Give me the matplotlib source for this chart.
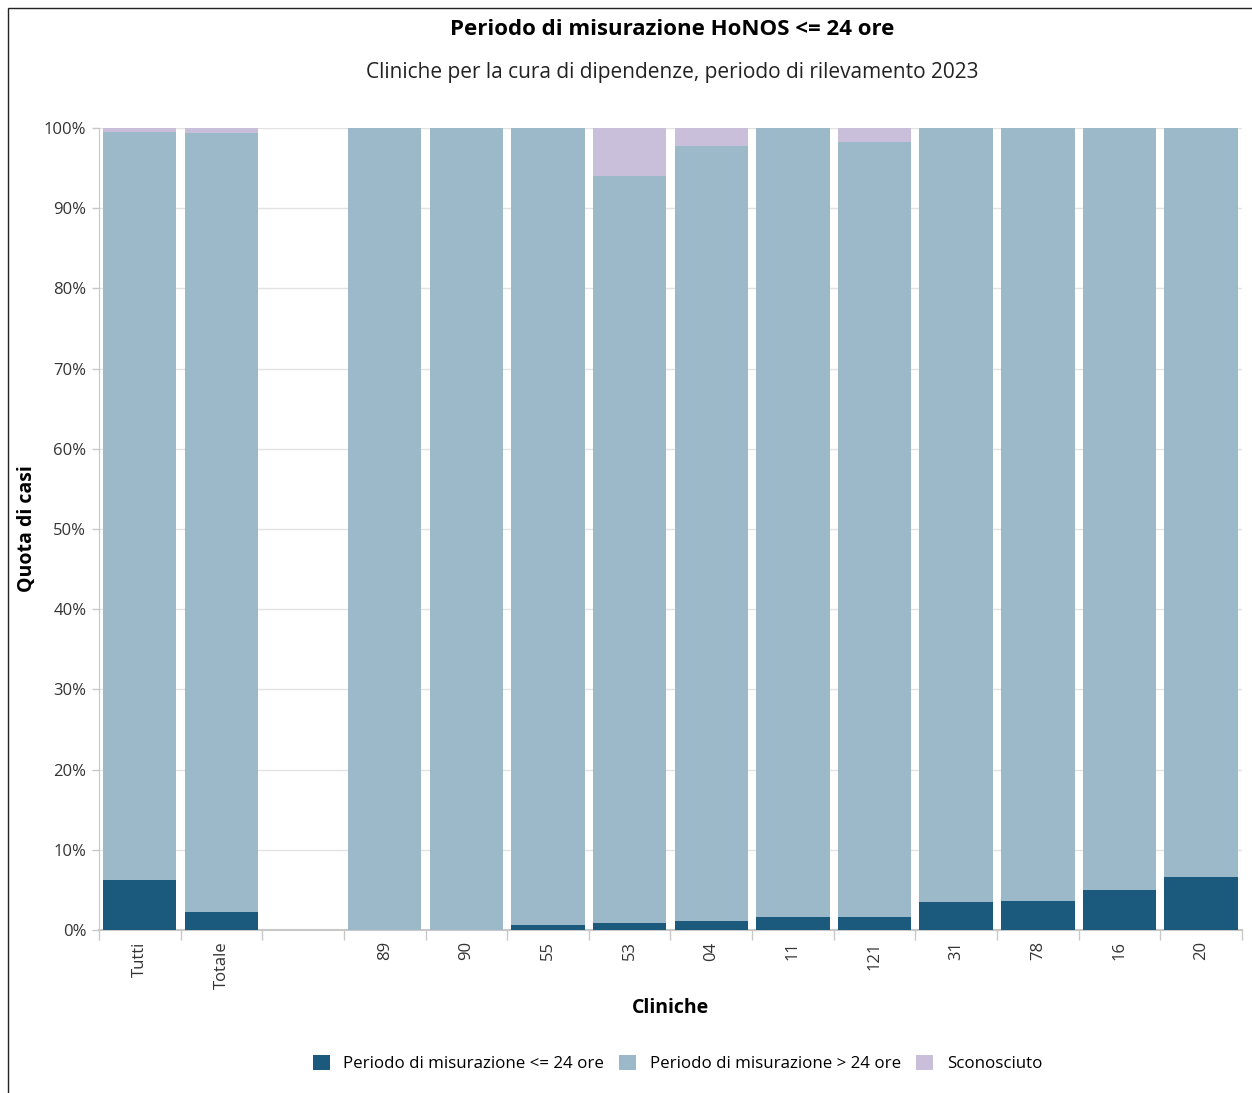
import matplotlib
matplotlib.use("Agg")
import matplotlib.pyplot as plt
import numpy as np
from matplotlib.patches import Rectangle

plt.rcParams['font.family'] = ['Open Sans', 'DejaVu Sans']

categories = ["Tutti", "Totale", "", "89", "90", "55", "53", "04", "11", "121", "31", "78", "16", "20"]
le24 = [6.2, 2.2, 0, 0, 0, 0.6, 0.9, 1.1, 1.6, 1.7, 3.5, 3.6, 5.0, 6.6]
gt24 = [93.3, 97.1, 0, 100, 100, 99.4, 93.1, 96.7, 98.4, 96.6, 96.5, 96.4, 95.0, 93.4]
unknown = [0.5, 0.7, 0, 0, 0, 0, 6.0, 2.2, 0, 1.7, 0, 0, 0, 0]

series_names = ["Periodo di misurazione <= 24 ore", "Periodo di misurazione > 24 ore", "Sconosciuto"]
colors = ["#1b5a7d", "#9bb9c9", "#c9bfda"]

fig = plt.figure(figsize=(12.52, 10.93), dpi=100)
ax = fig.add_axes([0.079, 0.149, 0.913, 0.734])

x = np.arange(len(categories))
w = 0.9
le = np.array(le24); gt = np.array(gt24); un = np.array(unknown)
ax.bar(x, le, w, color=colors[0], label=series_names[0], zorder=3)
ax.bar(x, gt, w, bottom=le, color=colors[1], label=series_names[1], zorder=3)
ax.bar(x, un, w, bottom=le + gt, color=colors[2], label=series_names[2], zorder=3)

ax.set_xlim(-0.5, len(categories) - 0.5)
ax.set_ylim(0, 100)
ax.set_yticks(np.arange(0, 101, 10))
ax.set_yticklabels([f"{v}%" for v in range(0, 101, 10)], fontsize=12, color="#333333")
ax.yaxis.grid(True, color="#e3e3e3", linewidth=1, zorder=0)
ax.set_axisbelow(True)

ax.set_xticks(x)
ax.set_xticklabels(categories, rotation=90, fontsize=12, color="#333333")
ax.set_xticks(np.arange(-0.5, len(categories), 1), minor=True)
ax.tick_params(axis='x', which='major', length=0, pad=8)
ax.tick_params(axis='x', which='minor', length=7, color="#c8c8c8", width=1)
ax.tick_params(axis='y', length=5, color="#c8c8c8", width=1, pad=4)

for s in ["top", "right"]:
    ax.spines[s].set_visible(False)
ax.spines["left"].set_color("#c8c8c8")
ax.spines["bottom"].set_color("#c8c8c8")
ax.spines["bottom"].set_linewidth(1.5)

ax.set_ylabel("Quota di casi", fontsize=14, fontweight="bold")
ax.yaxis.set_label_coords(-0.054, 0.5)
ax.set_xlabel("Cliniche", fontsize=14, fontweight="bold")
ax.xaxis.set_label_coords(0.5, -0.085)

fig.text(0.537, 0.973, "Periodo di misurazione HoNOS <= 24 ore", ha="center", va="center",
         fontsize=16, fontweight="bold")
fig.text(0.537, 0.934, "Cliniche per la cura di dipendenze, periodo di rilevamento 2023", ha="center",
         va="center", fontsize=15, color="#222222")

fig.legend(loc="center", bbox_to_anchor=(0.541, 0.027), ncol=3, frameon=False, fontsize=12.2,
           handlelength=1.0, handleheight=1.0, columnspacing=0.9, handletextpad=0.8)

fig.patches.append(Rectangle((0.0065, -0.01), 1.2, 1.0027, transform=fig.transFigure,
                             fill=False, edgecolor="#222222", linewidth=1))

fig.savefig("out.png", dpi=100)
